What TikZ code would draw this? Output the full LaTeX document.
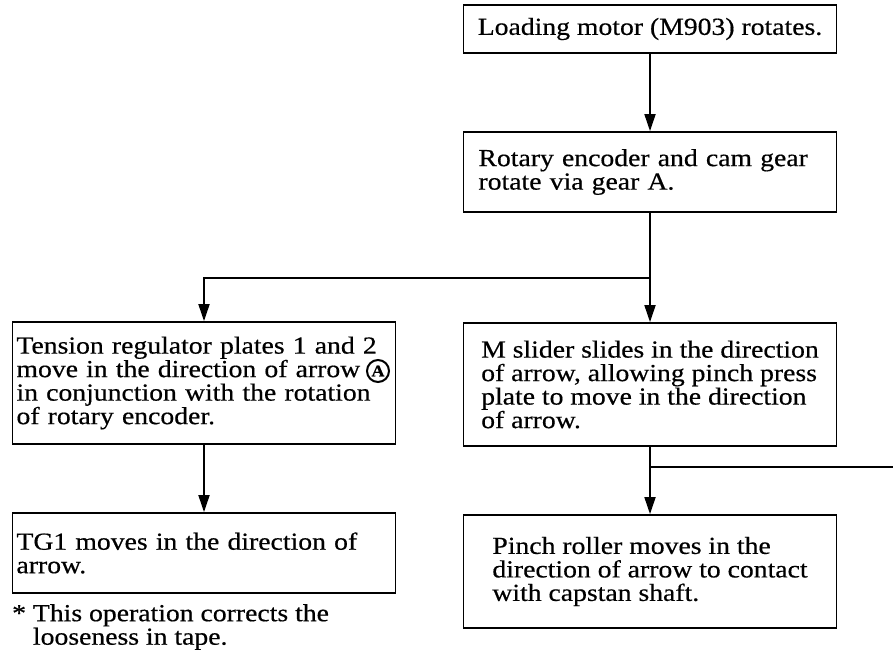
\documentclass[tikz,border=0pt]{standalone}
\usepackage{fontspec}
\setmainfont{Liberation Serif}[FakeStretch=1.13, FakeBold=0.5]
\usetikzlibrary{arrows.meta}

\tikzset{
	stepfont/.style={font=\fontsize{24.5bp}{23.5bp}\selectfont},
	stepbox/.style={draw, line width=1.8bp, align=left, inner ysep=0pt, stepfont},
	leftbox/.style={stepbox, text width=375bp, inner xsep=4bp},
	rightbox/.style={stepbox, minimum width=373bp, inner xsep=8bp},
	flow/.style={line width=1.8bp},
	flowarrow/.style={flow, -{Triangle[length=17bp,width=11bp]}}
}

\begin{document}
\begin{tikzpicture}[x=1bp, y=-1bp]
	\useasboundingbox (0,0) rectangle (893,664);
	% steps, top to bottom
	\node[rightbox, minimum height=48bp, align=center] (load) at (650,29) {Loading motor (M903) rotates.};
	\node[rightbox, minimum height=80bp, text width=343bp, inner xsep=15bp] (cam) at (650,172) {Rotary encoder and cam gear\\rotate via gear A.};
	\node[leftbox, minimum height=122bp] (tension) at (204,383) {Tension regulator plates 1 and 2\\move in the direction of arrow\\in conjunction with the rotation\\of rotary encoder.};
	\node[rightbox, minimum height=123bp] (slider) at (650,384.5) {M slider slides in the direction\\of arrow, allowing pinch press\\plate to move in the direction\\of arrow.};
	\node[leftbox, minimum height=80bp] (tg) at (204,553) {TG1 moves in the direction of\\arrow.};
	\node[rightbox, minimum height=113bp] (pinch) at (650,571.5) {Pinch roller moves in the\\direction of arrow to contact\\with capstan shaft.};
	% circled mark A
	\node[circle, draw, line width=2bp, minimum size=22bp, inner sep=0pt, font=\fontsize{16bp}{16bp}\selectfont\bfseries] (markA) at (378,371) {A};
	% note under TG1
	\node[anchor=north west, inner sep=0pt, align=left, stepfont] (note) at (12,604) {* This operation corrects the\\\phantom{*}\ looseness in tape.};
	% connectors
	\coordinate (split) at (650,278);
	\coordinate (exit) at (893,467);
	\draw[flowarrow] (load) -- (cam);
	\draw[flow] (cam) -- (split);
	\draw[flowarrow] (split) -| (tension);
	\draw[flowarrow] (split) -- (slider);
	\draw[flowarrow] (tension) -- (tg);
	\draw[flowarrow] (slider) -- (pinch);
	\draw[flow] (slider.south |- exit) -- (exit);
\end{tikzpicture}
\end{document}
